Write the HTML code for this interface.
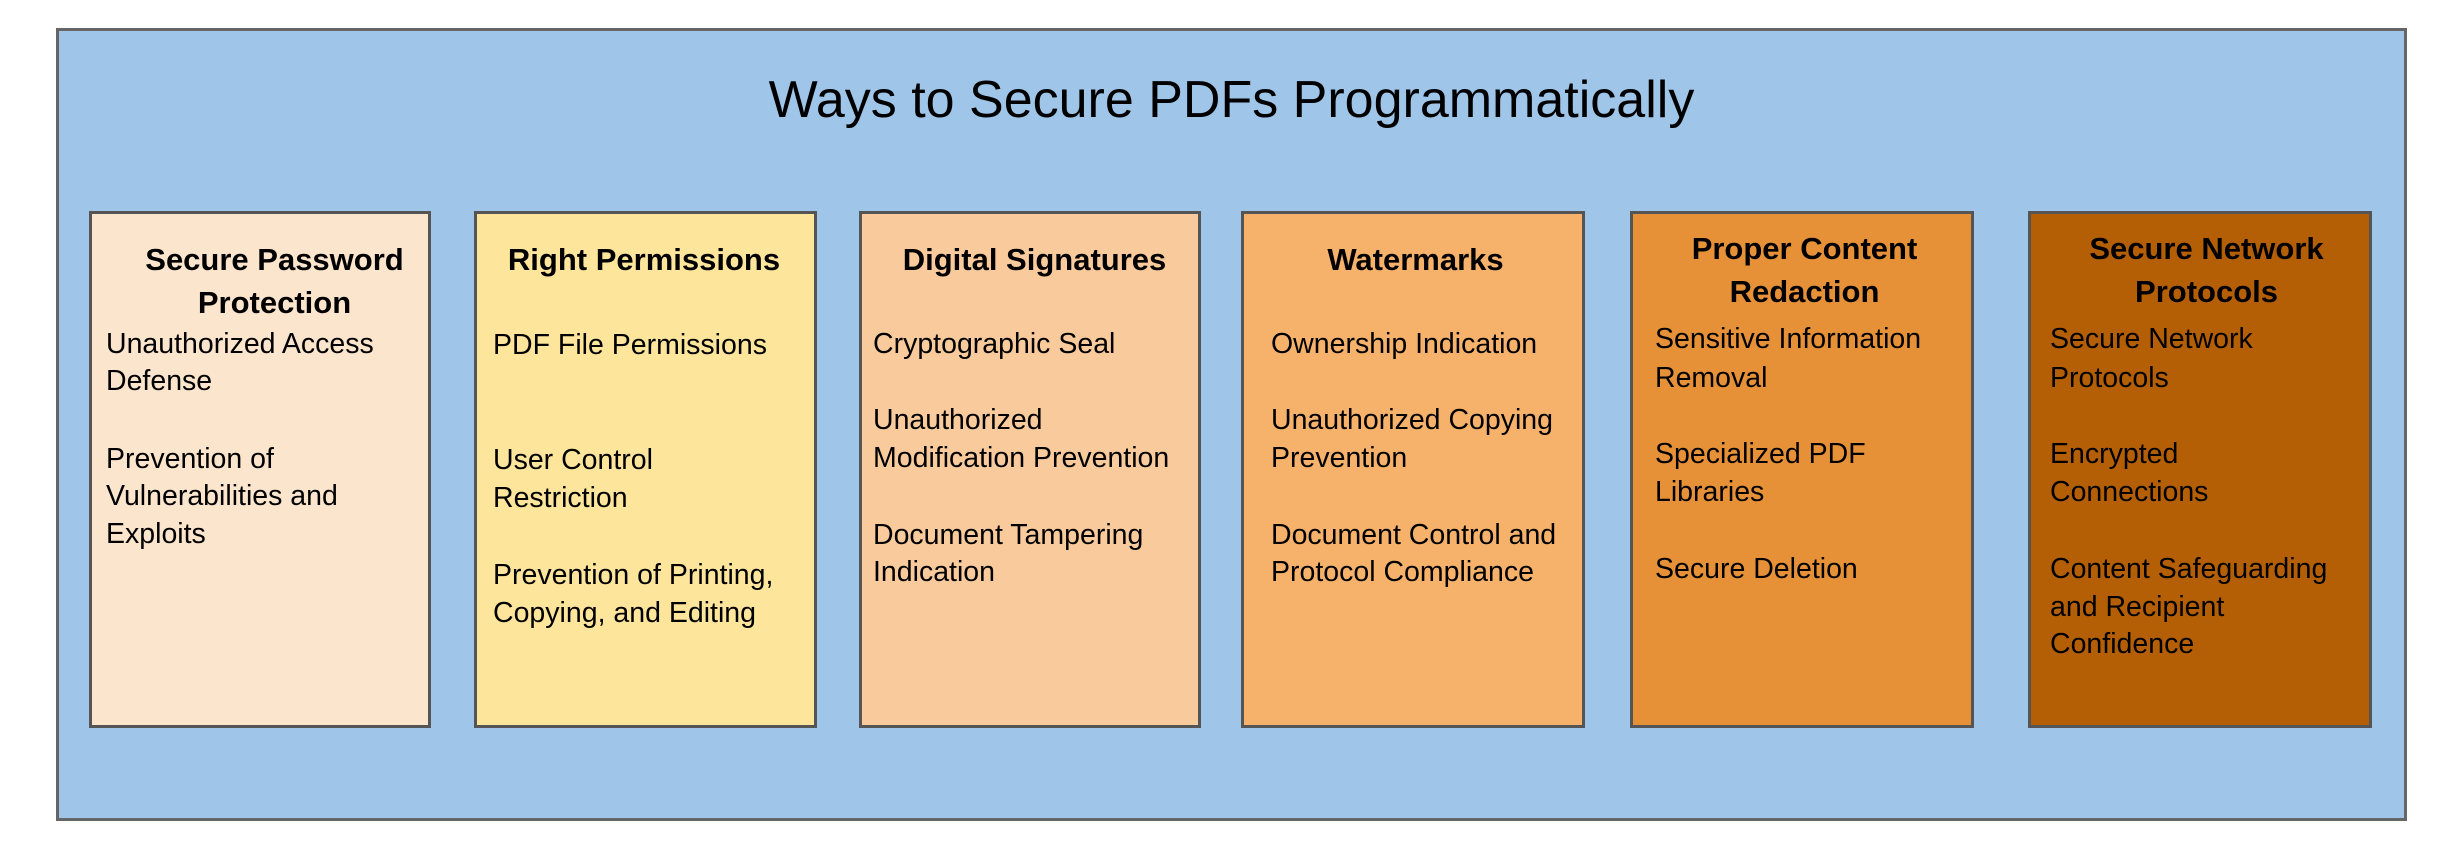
<!DOCTYPE html>
<html><head><meta charset="utf-8"><style>
body{margin:0;width:2439px;height:845px;background:#fff;position:relative;overflow:hidden;font-family:"Liberation Sans",sans-serif;color:#000}
.o{position:absolute;left:56px;top:28px;width:2345px;height:787px;background:#9fc5e8;border:3px solid #666}
.b{position:absolute;top:211px;height:511px;border:3px solid #555;box-sizing:content-box}
.t{position:absolute;font-size:28.5px;line-height:40px;white-space:nowrap}
.h{font-weight:bold;font-size:31px;text-align:center}
.title{position:absolute;left:0;width:2439px;top:68px;text-align:center;font-size:52px;line-height:64px}
</style></head><body>
<div class="o"></div>
<div class="title" style="left:12px">Ways to Secure PDFs Programmatically</div>

<div class="b" style="left:89px;width:336px;background:#fce5cd"></div>
<div class="b" style="left:474px;width:337px;background:#fde59b"></div>
<div class="b" style="left:859px;width:336px;background:#f9cb9c"></div>
<div class="b" style="left:1241px;width:338px;background:#f6b26b"></div>
<div class="b" style="left:1630px;width:338px;background:#e69138"></div>
<div class="b" style="left:2028px;width:338px;background:#b45f06"></div>

<!-- box1 -->
<div class="t h" style="left:105px;width:339px;top:240px">Secure Password</div>
<div class="t h" style="left:105px;width:339px;top:283px">Protection</div>
<div class="t" style="left:106px;top:324px">Unauthorized Access</div>
<div class="t" style="left:106px;top:361px">Defense</div>
<div class="t" style="left:106px;top:439px">Prevention of</div>
<div class="t" style="left:106px;top:476px">Vulnerabilities and</div>
<div class="t" style="left:106px;top:514px">Exploits</div>

<!-- box2 -->
<div class="t h" style="left:474px;width:340px;top:240px">Right Permissions</div>
<div class="t" style="left:493px;top:325px">PDF File Permissions</div>
<div class="t" style="left:493px;top:440px">User Control</div>
<div class="t" style="left:493px;top:478px">Restriction</div>
<div class="t" style="left:493px;top:555px">Prevention of Printing,</div>
<div class="t" style="left:493px;top:593px">Copying, and Editing</div>

<!-- box3 -->
<div class="t h" style="left:865px;width:339px;top:240px">Digital Signatures</div>
<div class="t" style="left:873px;top:324px">Cryptographic Seal</div>
<div class="t" style="left:873px;top:400px">Unauthorized</div>
<div class="t" style="left:873px;top:438px">Modification Prevention</div>
<div class="t" style="left:873px;top:515px">Document Tampering</div>
<div class="t" style="left:873px;top:552px">Indication</div>

<!-- box4 -->
<div class="t h" style="left:1245px;width:341px;top:240px">Watermarks</div>
<div class="t" style="left:1271px;top:324px">Ownership Indication</div>
<div class="t" style="left:1271px;top:400px">Unauthorized Copying</div>
<div class="t" style="left:1271px;top:438px">Prevention</div>
<div class="t" style="left:1271px;top:515px">Document Control and</div>
<div class="t" style="left:1271px;top:552px">Protocol Compliance</div>

<!-- box5 -->
<div class="t h" style="left:1634px;width:341px;top:229px">Proper Content</div>
<div class="t h" style="left:1634px;width:341px;top:272px">Redaction</div>
<div class="t" style="left:1655px;top:319px">Sensitive Information</div>
<div class="t" style="left:1655px;top:358px">Removal</div>
<div class="t" style="left:1655px;top:434px">Specialized PDF</div>
<div class="t" style="left:1655px;top:472px">Libraries</div>
<div class="t" style="left:1655px;top:549px">Secure Deletion</div>

<!-- box6 -->
<div class="t h" style="left:2036px;width:341px;top:229px">Secure Network</div>
<div class="t h" style="left:2036px;width:341px;top:272px">Protocols</div>
<div class="t" style="left:2050px;top:319px">Secure Network</div>
<div class="t" style="left:2050px;top:358px">Protocols</div>
<div class="t" style="left:2050px;top:434px">Encrypted</div>
<div class="t" style="left:2050px;top:472px">Connections</div>
<div class="t" style="left:2050px;top:549px">Content Safeguarding</div>
<div class="t" style="left:2050px;top:587px">and Recipient</div>
<div class="t" style="left:2050px;top:624px">Confidence</div>
</body></html>
